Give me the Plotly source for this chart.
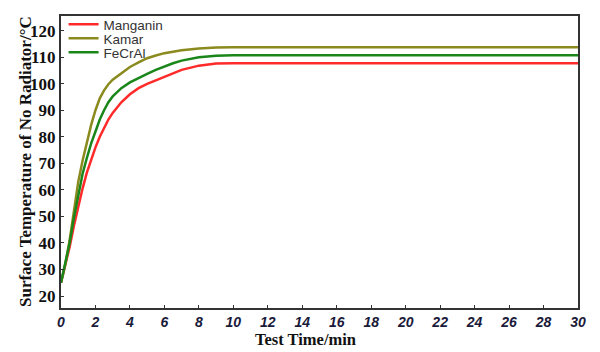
import plotly.graph_objects as go

# Time (min) and surface temperature (°C)
kamar_t = [0, 0.25, 0.5, 0.75, 1.0, 1.25, 1.5, 1.75, 2.0, 2.25, 2.5, 2.75, 3.0, 3.5, 4.0, 4.5, 5.0, 5.5, 6.0, 7.0, 8.0, 9.0, 10, 15, 20, 25, 30]
kamar_v = [25, 32, 41, 52, 63, 71, 78, 84.5, 90, 94.5, 97.5, 99.8, 101.5, 104, 106.3, 108, 109.6, 110.6, 111.5, 112.6, 113.3, 113.6, 113.7, 113.7, 113.7, 113.7, 113.7]

fecral_t = [0, 0.25, 0.5, 0.75, 1.0, 1.25, 1.5, 1.75, 2.0, 2.25, 2.5, 2.75, 3.0, 3.5, 4.0, 4.5, 5.0, 5.5, 6.0, 6.5, 7.0, 8.0, 9.0, 10, 15, 20, 25, 30]
fecral_v = [25, 32, 40, 49.5, 58.5, 66, 72, 77.5, 82, 86.5, 90, 93, 95.2, 98.3, 100.5, 102.2, 103.7, 105.2, 106.5, 107.7, 108.7, 110, 110.5, 110.7, 110.7, 110.7, 110.7, 110.7]

manganin_t = [0, 0.25, 0.5, 0.75, 1.0, 1.25, 1.5, 1.75, 2.0, 2.25, 2.5, 2.75, 3.0, 3.5, 4.0, 4.5, 5.0, 5.5, 6.0, 6.5, 7.0, 8.0, 9.0, 10, 15, 20, 25, 30]
manganin_v = [25, 31.5, 38.5, 46.5, 54, 60.5, 66.5, 71.5, 76, 80, 83.5, 86.5, 89, 93, 96, 98.3, 99.9, 101.2, 102.6, 104, 105.2, 106.8, 107.6, 107.7, 107.7, 107.7, 107.7, 107.7]

x_ticks = list(range(0, 31, 2))
y_ticks = list(range(20, 121, 10))

legend_font = dict(family="Liberation Sans, Arial", size=13.5, color="#333")

fig = go.Figure()
fig.add_trace(go.Scatter(x=manganin_t, y=manganin_v, mode="lines", name="Manganin", legend="legend",
                         line=dict(color="#ff2a2a", width=2.5)))
fig.add_trace(go.Scatter(x=kamar_t, y=kamar_v, mode="lines", name="Kamar", legend="legend2",
                         line=dict(color="#8a8a1e", width=2.5)))
fig.add_trace(go.Scatter(x=fecral_t, y=fecral_v, mode="lines", name="FeCrAl", legend="legend3",
                         line=dict(color="#1a861a", width=2.5)))

def leg(y):
    return dict(x=0.005, y=y, xanchor="left", yanchor="top", bgcolor="rgba(0,0,0,0)",
                font=legend_font, itemwidth=30)

fig.update_layout(
    width=600, height=352,
    margin=dict(l=61, r=22, t=16, b=44, autoexpand=False),
    paper_bgcolor="white", plot_bgcolor="white",
    showlegend=True,
    legend=leg(1.024), legend2=leg(0.976), legend3=leg(0.928),
    xaxis=dict(range=[0, 30], tickvals=x_ticks, ticktext=[str(v) for v in x_ticks],
               showgrid=False, zeroline=False, showline=True, linecolor="#333", linewidth=2,
               mirror=True, ticks="inside", ticklen=3, tickcolor="#333", automargin=False,
               tickfont=dict(family="Liberation Sans, Arial", size=14, color="#1a1a3a",
                             weight="bold", style="italic")),
    yaxis=dict(range=[15.5, 125.5], tickvals=y_ticks, ticktext=[str(v) for v in y_ticks],
               showgrid=False, zeroline=False, showline=True, linecolor="#333", linewidth=2,
               mirror=True, ticks="inside", ticklen=3, tickcolor="#333", automargin=False,
               tickfont=dict(family="Liberation Serif, Times New Roman", size=17, color="#111",
                             weight="bold")),
    annotations=[
        dict(text="Test Time/min", xref="paper", yref="paper", x=0.472, y=-0.108,
             xanchor="center", yanchor="middle", showarrow=False,
             font=dict(family="Liberation Serif, Times New Roman", size=16.5, color="#111", weight="bold")),
        dict(text="Surface Temperature of No Radiator/°C", xref="paper", yref="paper",
             x=-0.0696, y=0.5, xanchor="center", yanchor="middle", textangle=-90, showarrow=False,
             font=dict(family="Liberation Serif, Times New Roman", size=17, color="#111", weight="bold")),
    ],
)

fig.write_html("out.html")
